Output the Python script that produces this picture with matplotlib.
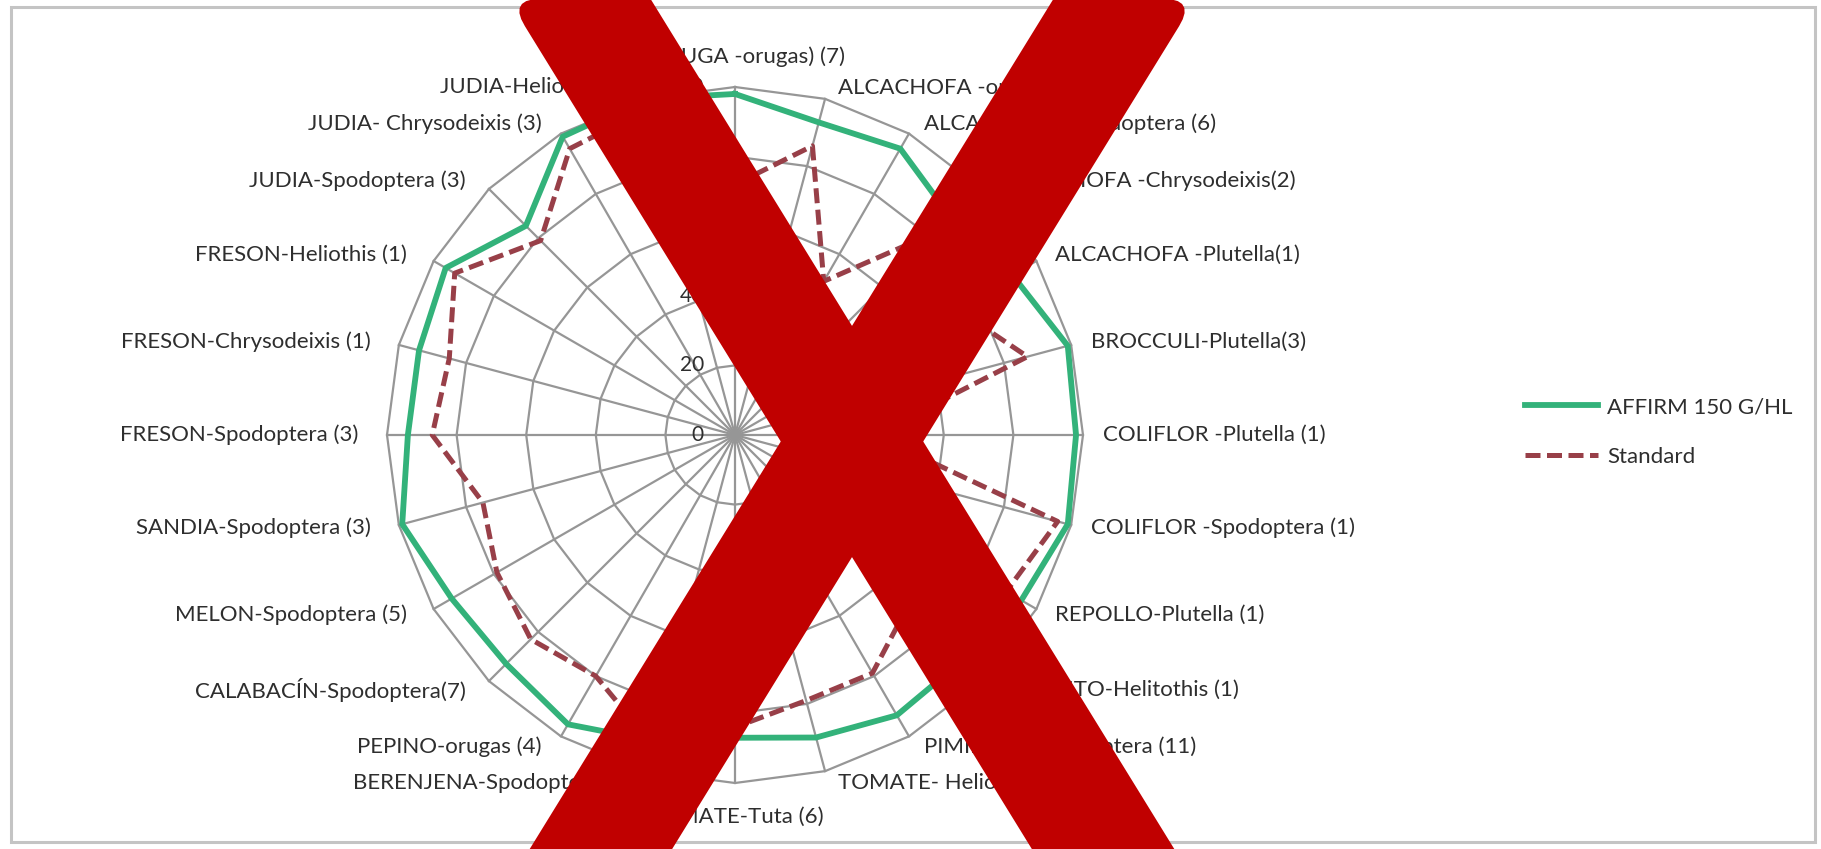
import numpy as np
import matplotlib
matplotlib.use('Agg')
import matplotlib.pyplot as plt
from matplotlib.patches import Rectangle, Polygon

plt.rcParams['font.family'] = ['Lato', 'DejaVu Sans']

# Data (clockwise from the top)
categories = [
    "LECHUGA -orugas) (7)", "ALCACHOFA -orugas (3)", "ALCACHOFA -Spodoptera (6)",
    "ALCACHOFA -Chrysodeixis(2)", "ALCACHOFA -Plutella(1)", "BROCCULI-Plutella(3)",
    "COLIFLOR -Plutella (1)", "COLIFLOR -Spodoptera (1)", "REPOLLO-Plutella (1)",
    "PIMIENTO-Helitothis (1)", "PIMIENTO-Spodoptera (11)", "TOMATE- Heliothis (2)",
    "TOMATE-Tuta (6)", "BERENJENA-Spodoptera (2)", "PEPINO-orugas (4)",
    "CALABACÍN-Spodoptera(7)", "MELON-Spodoptera (5)", "SANDIA-Spodoptera (3)",
    "FRESON-Spodoptera (3)", "FRESON-Chrysodeixis (1)", "FRESON-Heliothis (1)",
    "JUDIA-Spodoptera (3)", "JUDIA- Chrysodeixis (3)", "JUDIA-Heliothis (1)",
]
affirm = [98, 93, 95, 88, 92, 99, 98, 99, 95, 92, 93, 90,
          87, 91, 96, 93, 94, 99, 94, 94, 96, 85, 99, 100]
standard = [72, 86, 51, 83, 73, 87, 40, 96, 90, 70, 79, 79,
            84, 92, 80, 83, 79, 75, 87, 85, 93, 79, 95, 97]
ring_values = [0, 20, 40, 60, 80, 100]
series_names = ["AFFIRM 150 G/HL", "Standard"]

W, H = 1821, 849
GREEN = '#33b27a'
RED = '#983f48'
GRID = '#969696'
TEXT = '#2e2e2e'


def rounded(pts, idx, d=30, steps=8):
    """Round the corner pts[idx] of a polygon (quadratic bezier)."""
    pts = [np.asarray(p, float) for p in pts]
    p, a, b = pts[idx], pts[idx - 1], pts[(idx + 1) % len(pts)]
    u = (a - p) / np.linalg.norm(a - p)
    v = (b - p) / np.linalg.norm(b - p)
    A, B = p + d * u, p + d * v
    t = np.linspace(0, 1, steps)[:, None]
    arc = (1 - t) ** 2 * A + 2 * (1 - t) * t * p + t ** 2 * B
    return pts[:idx] + list(arc) + pts[idx + 1:]


fig = plt.figure(figsize=(W / 100, H / 100), dpi=100)

# outer frame of the chart area
fig.patches.append(Rectangle((11 / W, 1 - 842 / H), (1815 - 11) / W, (842 - 7) / H,
                             transform=fig.transFigure, fill=False,
                             edgecolor='#c4c4c4', linewidth=2.2))

cx, cy, R = 735, 435, 348
ax = fig.add_axes([(cx - R) / W, 1 - (cy + R) / H, 2 * R / W, 2 * R / H],
                  projection='polar')
ax.set_theta_zero_location('N')
ax.set_theta_direction(-1)
ax.set_ylim(0, 100)
ax.set_axis_off()

n = len(categories)
angles = np.arange(n) * 2 * np.pi / n
closed = np.append(angles, angles[0])

# polygon grid
for v in ring_values[1:]:
    ax.plot(closed, [v] * (n + 1), color=GRID, lw=1.6, clip_on=False, zorder=1)
for th in angles:
    ax.plot([th, th], [0, 100], color=GRID, lw=1.6, clip_on=False, zorder=1)

ax.plot(closed, affirm + affirm[:1], color=GREEN, lw=4.2, clip_on=False,
        zorder=3, label=series_names[0])
ax.plot(closed, standard + standard[:1], color=RED, lw=3.6, ls=(0, (3, 1.3)),
        clip_on=False, zorder=4, label=series_names[1])

# ring value labels
for v in ring_values:
    ax.annotate(str(v), xy=(0, v), xytext=(-31, 0), textcoords='offset pixels',
                ha='right', va='center', fontsize=15, color=TEXT,
                annotation_clip=False)

# category labels
for th, lab in zip(angles, categories):
    s, c = np.sin(th), np.cos(th)
    if abs(s) < 1e-6:
        ha, dx, dy = 'center', 0, (30 if c > 0 else -34)
    elif s > 0:
        ha, dx, dy = 'left', 10 + 10 * s, 12 * c
    else:
        ha, dx, dy = 'right', -(10 - 19 * s), 12 * c
    ax.annotate(lab, xy=(th, 100), xytext=(dx, dy), textcoords='offset pixels',
                ha=ha, va='center', fontsize=16, color=TEXT,
                annotation_clip=False)

fig.legend(loc='center left', bbox_to_anchor=(1525 / W, 1 - 432 / H),
           frameon=False, fontsize=16, labelcolor=TEXT, borderpad=0,
           borderaxespad=0, handlelength=3.3, handletextpad=0.4,
           labelspacing=1.34)

# big red cross over the chart (pixel outlines, y measured from the top)
stroke_a = rounded([(510, 0), (650, 0), (1186, 870), (1046, 870)], 0)
stroke_b = rounded([(1054, 0), (1194, 0), (658, 870), (518, 870)], 1)
for pts in (stroke_a, stroke_b):
    xy = [(x / W, 1 - y / H) for x, y in pts]
    fig.patches.append(Polygon(xy, closed=True, transform=fig.transFigure,
                               facecolor='#c00000', edgecolor='#c00000',
                               linewidth=1.5, joinstyle='round', zorder=10))

fig.savefig('out.png', dpi=100)
